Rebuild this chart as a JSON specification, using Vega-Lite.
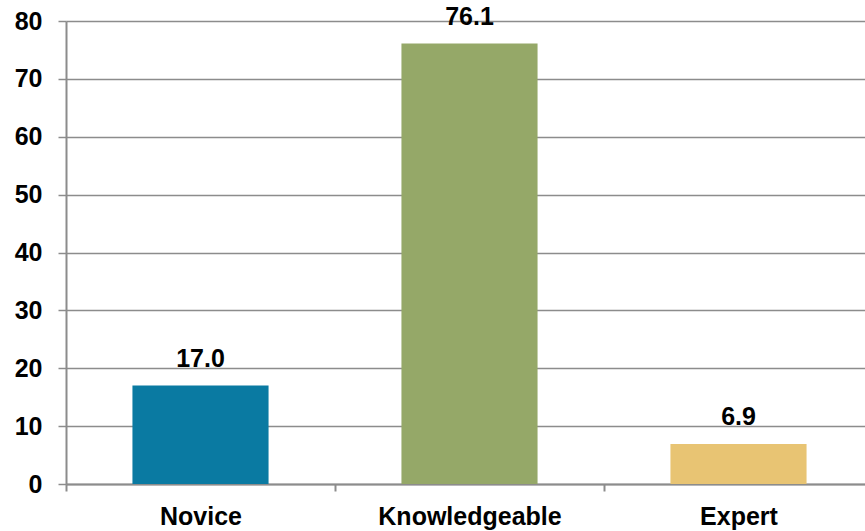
{
  "$schema": "https://vega.github.io/schema/vega-lite/v6.json",
  "autosize": "none",
  "padding": {"left": 66, "top": 21, "right": 0, "bottom": 47},
  "width": 807,
  "height": 463,
  "background": "white",
  "config": {
    "view": {"stroke": null},
    "font": "Liberation Sans"
  },
  "data": {
    "values": [
      {"level": "Novice", "value": 17.0},
      {"level": "Knowledgeable", "value": 76.1},
      {"level": "Expert", "value": 6.9}
    ]
  },
  "encoding": {
    "x": {
      "field": "level",
      "type": "nominal",
      "sort": null,
      "scale": {"paddingInner": 0, "paddingOuter": 0},
      "axis": {
        "title": null,
        "labelAngle": 0,
        "labelLimit": 0,
        "labelFont": "Liberation Sans",
        "labelFontSize": 25,
        "labelFontWeight": "bold",
        "labelColor": "black",
        "labelPadding": 13,
        "tickBand": "extent",
        "domainColor": "#8c8c8c",
        "domainWidth": 2,
        "tickColor": "#8c8c8c",
        "tickWidth": 2,
        "tickSize": 7,
        "grid": false
      }
    },
    "y": {
      "field": "value",
      "type": "quantitative",
      "scale": {"domain": [0, 80], "nice": false},
      "axis": {
        "title": null,
        "values": [0, 10, 20, 30, 40, 50, 60, 70, 80],
        "labelFont": "Liberation Sans",
        "labelFontSize": 25,
        "labelFontWeight": "bold",
        "labelColor": "black",
        "labelPadding": 16,
        "domainColor": "#8c8c8c",
        "domainWidth": 2,
        "tickColor": "#8c8c8c",
        "tickWidth": 1.5,
        "tickSize": 8,
        "grid": true,
        "gridColor": "#8c8c8c",
        "gridWidth": 1.5
      }
    }
  },
  "layer": [
    {
      "mark": {"type": "bar", "width": {"band": 0.506}},
      "encoding": {
        "color": {
          "field": "level",
          "type": "nominal",
          "scale": {
            "domain": ["Novice", "Knowledgeable", "Expert"],
            "range": ["#0a7aa2", "#95a868", "#e8c473"]
          },
          "legend": null
        }
      }
    },
    {
      "mark": {
        "type": "text",
        "baseline": "alphabetic",
        "dy": -19,
        "font": "Liberation Sans",
        "fontSize": 25,
        "fontWeight": "bold",
        "color": "black"
      },
      "encoding": {
        "text": {"field": "value", "type": "quantitative", "format": ".1f"}
      }
    }
  ]
}
